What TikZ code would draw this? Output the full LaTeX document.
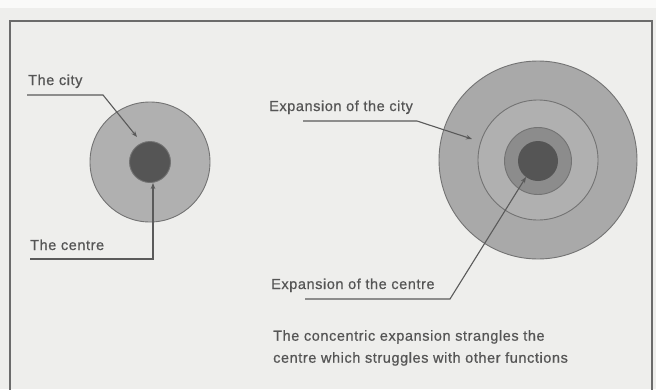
\documentclass[tikz,border=0pt]{standalone}
\usepackage{fontspec}
\setmainfont[LetterSpace=4,FakeBold=0.6]{Liberation Sans}
\usetikzlibrary{arrows.meta}
\definecolor{paper}{HTML}{EEEEEC}
\definecolor{inkgray}{HTML}{555555}
\definecolor{linegray}{HTML}{5A5A5A}
\definecolor{ringgray}{HTML}{B0B0B0}
\definecolor{outergray}{HTML}{A9A9A9}
\definecolor{midgray}{HTML}{8C8C8C}
\definecolor{coregray}{HTML}{555555}

\begin{document}
\begin{tikzpicture}[x=1pt,y=-1pt,
    label/.style={anchor=base west,inner sep=0pt,text=inkgray,font=\fontsize{14.5}{22}\selectfont},
    lead/.style={draw=linegray,line width=1.1pt,-{Stealth[length=6pt,width=4.5pt]}},
    disc/.style={circle,inner sep=0pt,draw=linegray!85,line width=0.9pt}]
  % paper and frame
  \fill[paper] (0,0) rectangle (656,389);
  \useasboundingbox (0,0) rectangle (656,389);
  \fill[white!70!paper] (0,0) rectangle (656,8);
  \draw[linegray!90,line width=1.3pt] (10,395) -- (10,21) -- (652,21) -- (652,395);

  % the city as it is
  \node[disc,fill=ringgray,minimum size=120pt] (city) at (150,162) {};
  \node[disc,fill=coregray,minimum size=41pt] (centre) at (150,162) {};
  \node[label] (citylbl) at (28,85) {The city};
  \node[label] (centrelbl) at (30,250) {The centre};
  \coordinate (citylead) at (27,95);
  \coordinate (citytip) at (137,137);
  \coordinate (centrelead) at (30,259);
  \draw[lead] (citylead) -- ++(76,0) -- (citytip);
  \draw[lead] (centrelead) -| (centre.south -| 153,0);

  % the city after concentric growth
  \node[disc,fill=outergray,minimum size=198pt] (bigcity) at (538,160) {};
  \node[disc,fill=ringgray,minimum size=120pt] (oldcity) at (538,160) {};
  \node[disc,fill=midgray,minimum size=67pt] (bigcentre) at (538,161) {};
  \node[disc,draw=none,fill=coregray,minimum size=40pt] (oldcentre) at (538,161) {};
  \node[label] (bigcitylbl) at (269,111) {Expansion of the city};
  \node[label] (bigcentrelbl) at (271,289) {Expansion of the centre};
  \coordinate (bigcitylead) at (303,121);
  \coordinate (bigcitytip) at (472,139);
  \coordinate (bigcentrelead) at (305,299);
  \coordinate (bigcentretip) at (526,177);
  \draw[lead] (bigcitylead) -- ++(114,0) -- (bigcitytip);
  \draw[lead] (bigcentrelead) -- ++(145,0) -- (bigcentretip);

  \node[label,anchor=north west,align=left] (caption) at (273,330)
    {The concentric expansion strangles the\\centre which struggles with other functions};
\end{tikzpicture}
\end{document}
